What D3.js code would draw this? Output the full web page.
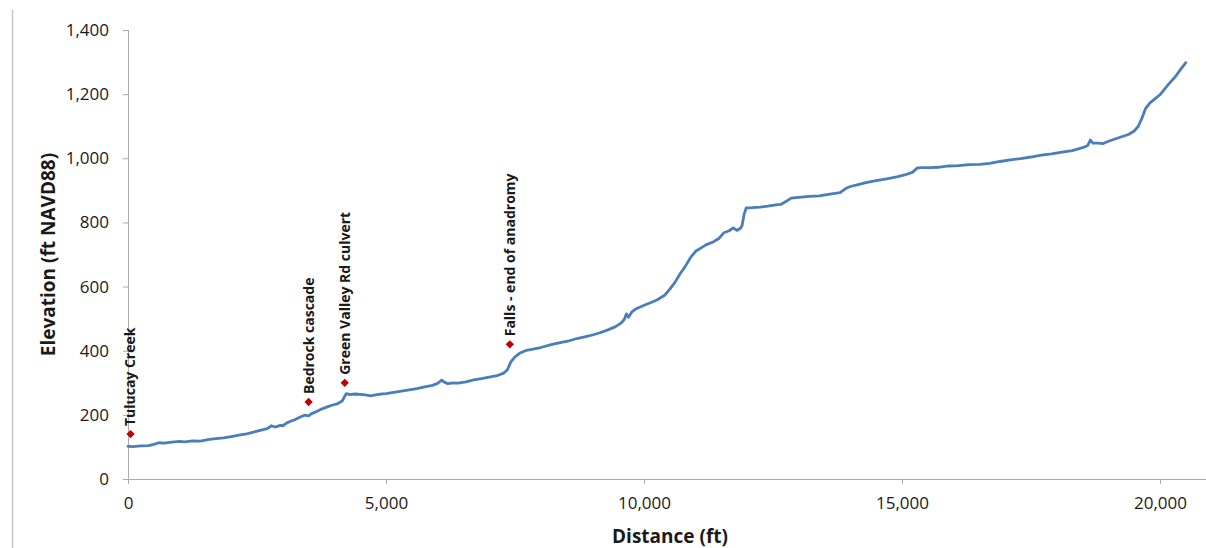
<!DOCTYPE html>
<html>
<head>
<meta charset="utf-8">
<script src="https://cdn.jsdelivr.net/npm/d3@7"></script>
<style>
  html, body { margin: 0; padding: 0; background: #fff; }
  svg { display: block; }
  .tick text { font-family: "Open Sans", sans-serif; fill: #1a1a1a; }
</style>
</head>
<body>
<svg id="chart" width="1206" height="548"></svg>
<script>
// Longitudinal stream profile: distance upstream (ft) vs bed elevation (ft NAVD88)
const distance = [
  0, 100, 250, 400, 500, 600, 700, 850, 1000, 1100, 1250, 1400, 1550, 1700, 1850,
  2000, 2150, 2300, 2450, 2600, 2700, 2780, 2850, 2950, 3000, 3080, 3150, 3250, 3350, 3420,
  3500, 3550, 3650, 3750, 3850, 3950, 4050, 4150, 4200, 4230, 4300, 4400, 4500, 4600, 4700,
  4800, 4900, 5000, 5150, 5300, 5450, 5600, 5750, 5900, 6000, 6080, 6130, 6200, 6300, 6400,
  6550, 6700, 6850, 7000, 7150, 7280, 7350, 7420, 7500, 7600, 7700, 7850, 8000, 8200, 8400,
  8550, 8700, 8850, 9000, 9150, 9300, 9450, 9560, 9620, 9660, 9700, 9760, 9850, 9950, 10050,
  10150, 10250, 10400, 10500, 10600, 10700, 10800, 10900, 11000, 11100, 11200, 11350, 11450, 11550, 11650,
  11730, 11800, 11870, 11900, 11940, 11980, 12100, 12250, 12400, 12550, 12650, 12750, 12850, 13000, 13200,
  13400, 13600, 13800, 13900, 14000, 14150, 14300, 14500, 14700, 14900, 15050, 15200, 15300, 15400, 15550,
  15700, 15900, 16100, 16300, 16500, 16700, 16900, 17100, 17300, 17500, 17700, 17900, 18100, 18300, 18500,
  18600, 18650, 18700, 18800, 18900, 19000, 19200, 19400, 19500, 19580, 19650, 19720, 19800, 19900, 20000,
  20150, 20300, 20400, 20500
];
const elevation = [
  102, 101, 103, 104, 108, 113, 112, 115, 117, 116, 119, 118, 123, 126, 128,
  132, 137, 141, 147, 153, 157, 166, 162, 167, 166, 175, 180, 186, 194, 199,
  197, 203, 210, 218, 224, 230, 234, 243, 258, 266, 263, 265, 264, 262, 259,
  262, 265, 266, 270, 274, 278, 282, 287, 292, 298, 308, 302, 297, 300, 299,
  303, 309, 313, 318, 322, 330, 340, 365, 381, 393, 400, 405, 410, 419, 426,
  431, 438, 443, 449, 456, 465, 475, 487, 498, 515, 504, 520, 531, 538, 545,
  551, 558, 573, 592, 613, 640, 663, 690, 710, 720, 730, 740, 750, 768, 774,
  783, 775, 782, 790, 825, 845, 846, 848, 851, 855, 856, 865, 876, 878, 881,
  883, 888, 893, 905, 912, 918, 924, 930, 936, 942, 948, 956, 970, 971, 971,
  972, 976, 977, 980, 981, 984, 990, 995, 999, 1004, 1010, 1014, 1019, 1024, 1033,
  1040, 1057, 1047, 1047, 1046, 1053, 1064, 1075, 1085, 1100, 1125, 1155, 1172, 1185, 1198,
  1228, 1255, 1277, 1298
];

// Landmarks along the reach
const landmarkNames = ["Tulucay Creek", "Bedrock cascade", "Green Valley Rd culvert", "Falls - end of anadromy"];
const landmarkDistance = [50, 3500, 4200, 7400];
const landmarkElevation = [140, 240, 300, 420];

const xTicks = [0, 5000, 10000, 15000, 20000];
const yTicks = [0, 200, 400, 600, 800, 1000, 1200, 1400];

const svg = d3.select("#chart");
const fmt = d3.format(",");

const plotLeft = 128, plotRight = 1206, plotTop = 30, plotBottom = 479;
const x = d3.scaleLinear().domain([0, 20000]).range([plotLeft, 1160]);
const y = d3.scaleLinear().domain([0, 1400]).range([plotBottom, plotTop]);

// frame edge on the left
svg.append("line")
  .attr("x1", 12.5).attr("x2", 12.5).attr("y1", 10).attr("y2", 548)
  .attr("stroke", "#c6c6c6").attr("stroke-width", 1.5);

// x axis
const xAxisG = svg.append("g")
  .attr("transform", `translate(0,${plotBottom})`)
  .call(d3.axisBottom(x).tickValues(xTicks).tickFormat(fmt).tickSize(5).tickPadding(13).tickSizeOuter(0));
xAxisG.select(".domain").attr("d", `M${plotLeft - 5},0.5H${plotRight}`);

// y axis
const yAxisG = svg.append("g")
  .attr("transform", `translate(${plotLeft},0)`)
  .call(d3.axisLeft(y).tickValues(yTicks).tickFormat(fmt).tickSize(5).tickPadding(14).tickSizeOuter(0));
yAxisG.select(".domain").attr("d", `M0.5,${plotTop}V${plotBottom + 5}`);

svg.selectAll(".domain, .tick line").attr("stroke", "#ababab").attr("stroke-width", 1);
svg.selectAll(".tick text").attr("font-size", 17);

// axis titles
svg.append("text")
  .attr("x", 670).attr("y", 543)
  .attr("text-anchor", "middle")
  .attr("font-family", "Open Sans, sans-serif").attr("font-weight", "bold").attr("font-size", 19)
  .attr("fill", "#1a1a1a")
  .text("Distance (ft)");

svg.append("text")
  .attr("transform", `translate(55,${(plotTop + plotBottom) / 2}) rotate(-90)`)
  .attr("text-anchor", "middle")
  .attr("font-family", "Open Sans, sans-serif").attr("font-weight", "bold").attr("font-size", 19)
  .attr("fill", "#1a1a1a")
  .text("Elevation (ft NAVD88)");

// profile line
const profile = distance.map((d, i) => [d, elevation[i]]);
svg.append("path")
  .datum(profile)
  .attr("fill", "none")
  .attr("stroke", "#4a7ebb")
  .attr("stroke-width", 2.8)
  .attr("stroke-linejoin", "round")
  .attr("stroke-linecap", "round")
  .attr("d", d3.line().x(d => x(d[0])).y(d => y(d[1])));

// landmark markers and labels
const marks = landmarkNames.map((name, i) => ({ name, d: landmarkDistance[i], e: landmarkElevation[i] }));

svg.selectAll(".marker")
  .data(marks)
  .join("path")
  .attr("class", "marker")
  .attr("transform", m => `translate(${x(m.d)},${y(m.e)})`)
  .attr("d", d3.symbol(d3.symbolDiamond2, 44))
  .attr("fill", "#c00000");

svg.selectAll(".mark-label")
  .data(marks)
  .join("text")
  .attr("class", "mark-label")
  .attr("transform", m => `translate(${x(m.d)},${y(m.e) - 8}) rotate(-90)`)
  .attr("dy", "0.35em")
  .attr("font-family", "Open Sans, sans-serif").attr("font-weight", "bold").attr("font-size", 14)
  .attr("fill", "#1a1a1a")
  .text(m => m.name);
</script>
</body>
</html>
